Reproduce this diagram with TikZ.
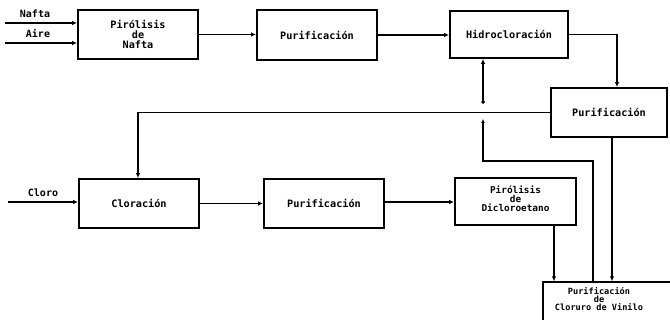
\documentclass[tikz,border=0pt]{standalone}
\usepackage{fontspec}
\setmonofont{DejaVu Sans Mono}
\usetikzlibrary{arrows.meta,calc}
\begin{document}
\begin{tikzpicture}[x=1pt,y=-1pt,
  blk/.style={draw,line width=1.8pt,minimum width=#1,inner sep=0pt,align=center,
    font=\ttfamily\bfseries\fontsize{10.2}{10}\selectfont},
  blk/.default=120pt,
  lbl/.style={font=\ttfamily\bfseries\fontsize{10}{10}\selectfont,inner sep=0pt},
  con/.style={line width=1.1pt,-{Latex[length=5pt,width=4.5pt]}},
  ln/.style={line width=1.1pt}]
\useasboundingbox (0,0) rectangle (670,320);
% blocks
\node[blk=120pt,minimum height=49pt] (pn) at (138,34.5) {Pirólisis\\de\\Nafta};
\node[blk=120pt,minimum height=50pt] (p1) at (317,35) {Purificación};
\node[blk=118pt,minimum height=47pt] (hid) at (509,34.5) {Hidrocloración};
\node[blk=116pt,minimum height=49pt] (p2) at (609,112.5) {Purificación};
\node[blk=120pt,minimum height=49pt] (clo) at (139,203.5) {Cloración};
\node[blk=120pt,minimum height=49pt] (p3) at (324,203.5) {Purificación};
\node[blk=121pt,minimum height=47pt] (pd) at (515.5,201.5) {};
\node[font=\ttfamily\bfseries\fontsize{9.4}{9}\selectfont,align=center,inner sep=0pt] (pdt) at (515.5,199) {Pirólisis\\de\\Dicloroetano};
\node[draw,line width=1.3pt,minimum width=129pt,minimum height=43pt,inner sep=0pt] (pcv) at (607.5,303.5) {};
\node[font=\ttfamily\bfseries\fontsize{8.6}{8}\selectfont,align=center,inner sep=0pt] (pcvt) at (599,299) {Purificación\\de\\Cloruro de Vinilo};
% inputs
\coordinate (nf) at (5,23);
\coordinate (ai) at (5,43);
\coordinate (cl) at (8,202);
\node[lbl,anchor=base] (nft) at (35,18) {Nafta};
\node[lbl,anchor=base] (ait) at (38,38) {Aire};
\node[lbl,anchor=base] (clt) at (43,197) {Cloro};
\draw[con] (nf) -- (nf -| pn.west);
\draw[con] (ai) -- (ai -| pn.west);
\draw[con] (cl) -- (cl -| clo.west);
% main flow
\draw[con] (pn.east) -- (pn.east -| p1.west);
\draw[con] (p1.east) -- (p1.east -| hid.west);
\coordinate (p2n) at ([xshift=8pt]p2.north);
\draw[con] (hid.east) -| (p2n);
\coordinate (clon) at ([xshift=-1pt]clo.north);
\draw[con] (p2.west) -| (clon);
\draw[con] (clo.east) -- (clo.east -| p3.west);
\coordinate (p3e) at (p3.east |- 0,202);
\draw[con] (p3e) -- (p3e -| pd.west);
\coordinate (pds) at (554,0);
\draw[con] (pds |- pd.south) -- (pds |- pcv.north);
\coordinate (p2s) at ([xshift=3pt]p2.south);
\draw[con] (p2s) -- (p2s |- pcv.north);
% recycle to hidrocloracion
\coordinate (rc) at (593,0);
\coordinate (rk) at (483,161);
\coordinate (rt) at (483,119);
\coordinate (rs) at (483,104);
\draw[ln,-{Latex[length=4pt,width=4pt]}] (rc |- pcv.north) |- (rk) -- (rt);
\draw[line width=1.1pt,{Diamond[length=4pt,width=4pt]}-{Latex[length=5pt,width=4.5pt]}] (rs) -- (rs |- hid.south);
\end{tikzpicture}
\end{document}
